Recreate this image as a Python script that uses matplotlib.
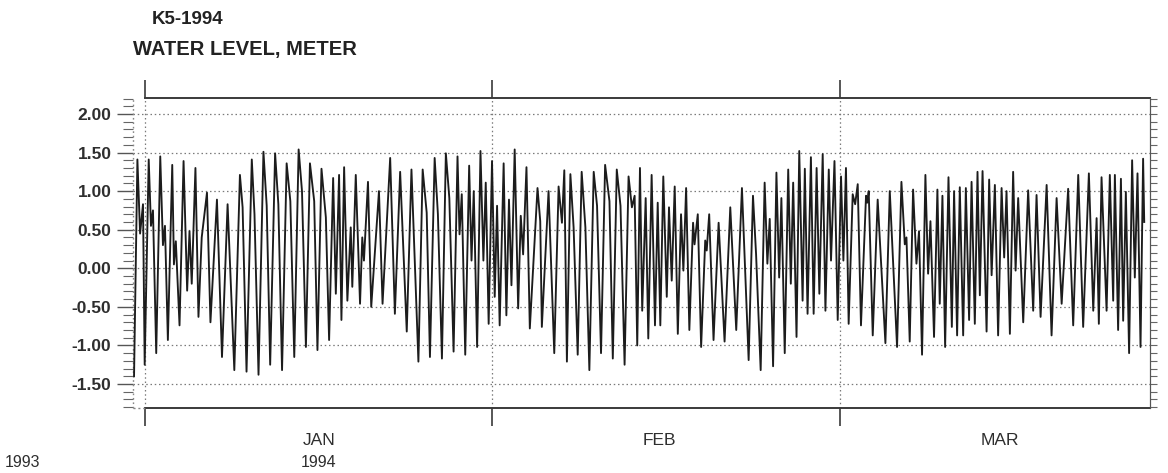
import numpy as np
import matplotlib.pyplot as plt
import matplotlib.transforms as mtransforms
from matplotlib.ticker import MultipleLocator

plt.rcParams['font.family'] = ['Liberation Sans', 'DejaVu Sans']

# K5 tide gauge, high/low water points
# time = days from 1 Jan 1994 00:00, level = metres
jan_day = [-0.98, -0.68, -0.44, -0.18, -0.03, 0.33, 0.53, 0.71, 1.00, 1.36,
           1.60, 1.78, 2.04, 2.43, 2.58, 2.75, 3.08, 3.44, 3.76, 3.97,
           4.17, 4.50, 4.77, 5.06, 5.53, 5.84, 6.42, 6.87, 7.37, 7.97,
           8.47, 8.71, 9.06, 9.53, 9.77, 10.13, 10.57, 10.86, 11.17, 11.61,
           11.90, 12.23, 12.64, 12.97, 13.32, 13.71, 14.01, 14.36, 14.72, 15.10,
           15.39, 15.75, 16.14, 16.43, 16.79, 17.03, 17.32, 17.53, 17.77, 18.06,
           18.36, 18.50, 18.81, 19.19, 19.39, 19.54, 19.90, 20.19, 20.88, 21.20,
           21.88, 22.30, 22.77, 23.36, 23.78, 24.40, 24.78, 25.14, 25.43, 25.85,
           26.14, 26.50, 26.85, 27.16, 27.54, 27.89, 28.07, 28.27, 28.58, 28.93,
           29.14, 29.34, 29.64, 29.94, 30.20, 30.41, 30.67, 30.97]
jan_level = [-1.40, 1.41, 0.45, 0.83, -1.25, 1.41, 0.55, 0.75, -1.10, 1.45,
             0.30, 0.55, -0.93, 1.34, 0.05, 0.35, -0.74, 1.39, -0.29, 0.48,
             -0.20, 1.30, -0.63, 0.40, 0.98, -0.70, 0.89, -1.15, 0.83, -1.32,
             1.21, 0.79, -1.34, 1.41, 0.70, -1.38, 1.51, 0.81, -1.25, 1.49,
             0.83, -1.32, 1.36, 0.87, -1.15, 1.54, 1.00, -1.02, 1.36, 0.87,
             -1.06, 1.29, 0.66, -0.93, 1.17, -0.33, 1.21, -0.67, 1.31, -0.42,
             0.53, -0.24, 1.21, -0.46, 0.40, 0.10, 1.12, -0.50, 1.00, -0.46,
             1.43, -0.59, 1.25, -0.82, 1.28, -1.21, 1.28, 0.72, -1.15, 1.43,
             0.70, -1.17, 1.49, 0.91, -1.08, 1.45, 0.44, 0.96, -1.12, 1.33,
             0.10, 1.00, -1.02, 1.52, 0.10, 1.11, -0.72, 1.39]

feb_day = [31.19, 31.38, 31.59, 31.91, 32.13, 32.34, 32.54, 32.80, 33.08, 33.29,
           33.48, 33.75, 34.02, 34.64, 34.86, 34.99, 35.53, 35.99, 36.34, 36.61,
           36.80, 37.01, 37.29, 37.55, 37.88, 38.20, 38.50, 38.82, 39.17, 39.44,
           39.76, 40.09, 40.44, 40.71, 41.03, 41.33, 41.66, 41.98, 42.25, 42.47,
           42.68, 42.90, 43.08, 43.36, 43.57, 43.84, 44.11, 44.33, 44.54, 44.78,
           45.06, 45.24, 45.46, 45.70, 45.95, 46.21, 46.40, 46.62, 46.88, 47.18,
           47.30, 47.56, 47.83, 48.16, 48.28, 48.48, 48.83, 49.24, 49.72, 50.18,
           50.66, 51.12, 51.66, 52.01, 52.26, 52.63, 52.95, 53.17, 53.36, 53.63,
           53.90, 54.12, 54.30, 54.57, 54.85, 55.06, 55.25, 55.52, 55.74, 56.01,
           56.19, 56.41, 56.68, 56.90, 57.14, 57.36, 57.63, 57.85, 58.12, 58.30,
           58.58, 58.84]
feb_level = [-0.37, 0.81, -0.74, 1.36, -0.61, 0.89, -0.22, 1.54, -0.52, 0.68,
             0.18, 1.31, -0.78, 1.04, 0.61, -0.76, 1.00, -1.10, 1.06, 0.59,
             1.27, -1.21, 1.22, 0.53, -1.12, 1.25, 0.53, -1.32, 1.25, 0.81,
             -1.10, 1.34, 0.87, -1.17, 1.28, 0.81, -1.25, 1.19, 0.79, 0.94,
             -1.00, 1.30, -0.55, 0.91, -0.91, 1.21, -0.74, 0.85, -0.74, 1.19,
             -0.37, 0.79, -0.16, 1.06, -0.85, 0.70, -0.03, 1.04, -0.80, 0.59,
             0.31, 0.70, -1.02, 0.36, 0.23, 0.70, -0.93, 0.59, -0.95, 0.79,
             -0.80, 1.04, -1.19, 0.94, 0.18, -1.32, 1.11, 0.06, 0.64, -1.27,
             1.24, -0.12, 0.91, -1.10, 1.28, -0.20, 1.11, -0.89, 1.52, -0.42,
             1.29, -0.59, 1.44, -0.59, 1.30, -0.33, 1.48, -0.55, 1.28, 0.10,
             1.39, -0.67]

mar_day = [59.12, 59.33, 59.56, 59.80, 60.16, 60.38, 60.61, 60.90, 61.35, 61.46,
           61.59, 61.95, 62.39, 63.08, 63.47, 64.12, 64.51, 64.81, 64.96, 65.25,
           65.55, 65.85, 66.08, 66.35, 66.65, 66.89, 67.10, 67.42, 67.72, 67.93,
           68.17, 68.41, 68.71, 69.01, 69.21, 69.48, 69.72, 70.02, 70.26, 70.55,
           70.77, 71.06, 71.30, 71.51, 71.75, 72.11, 72.34, 72.56, 72.85, 73.14,
           73.45, 73.68, 73.89, 74.19, 74.48, 74.70, 74.93, 75.38, 75.82, 76.27,
           76.57, 76.93, 77.47, 77.91, 78.36, 78.81, 79.39, 79.84, 80.29, 80.73,
           81.24, 81.63, 81.93, 82.13, 82.37, 82.82, 83.11, 83.41, 83.56, 83.85,
           84.10, 84.30, 84.54, 84.83, 85.10, 85.34, 85.58, 85.85, 86.08, 86.18]
mar_level = [1.19, 0.10, 1.30, -0.72, 0.96, 0.83, 1.09, -0.74, 0.94, 0.85,
             1.00, -0.87, 0.89, -0.97, 1.00, -1.02, 1.12, 0.31, 0.40, -0.95,
             1.02, 0.06, 0.48, -1.12, 1.21, -0.07, 0.61, -0.89, 1.02, -0.46,
             0.94, -1.02, 1.18, -0.76, 1.00, -0.87, 1.05, -0.87, 1.04, -0.67,
             1.12, -0.72, 1.25, -0.35, 1.26, -0.82, 1.15, -0.09, 1.08, -0.87,
             1.04, 0.14, 1.00, -0.85, 1.25, -0.03, 0.91, -0.70, 1.01, -0.55,
             0.95, -0.63, 1.08, -0.87, 0.91, -0.46, 1.03, -0.74, 1.21, -0.76,
             1.23, -0.55, 0.65, -0.72, 1.18, -0.55, 1.21, -0.42, 1.21, -0.80,
             1.16, -0.68, 0.99, -1.10, 1.40, -0.12, 1.23, -1.02, 1.42, 0.60]

# month boundaries (Dec 1993 .. Apr 1994) in days from 1 Jan 1994
month_start_day = [-31, 0, 31, 59, 90]
month_names = ["JAN", "FEB", "MAR"]
month_label_day = [15.5, 44.5, 73.3]
level_ticks = [-1.5, -1.0, -0.5, 0.0, 0.5, 1.0, 1.5, 2.0]


def to_month_axis(days):
    # every month gets the same width on the time axis
    return np.interp(days, month_start_day, np.arange(-1, len(month_start_day) - 1))


t = to_month_axis(np.array(jan_day + feb_day + mar_day))
h = np.array(jan_level + feb_level + mar_level)

ink = '#1c1c1c'
fig = plt.figure(figsize=(11.68, 4.73), dpi=100)
ax = fig.add_axes([0.11387, 0.13742, 0.87072, 0.65539])

x0, x1 = -0.0346, 2.8934
ax.set_xlim(x0, x1)
ax.set_ylim(-1.811, 2.207)

# dotted reference grid
for lv in level_ticks:
    ax.axhline(lv, color='#7a7a7a', lw=0.9, ls=(0, (1.2, 2.2)), zorder=1)
for m in to_month_axis(month_start_day[1:4]):
    ax.axvline(m, color='#7a7a7a', lw=0.9, ls=(0, (1.2, 2.2)), zorder=1)

ax.plot(t, h, color=ink, lw=1.35, zorder=3)

# frame: solid top/bottom from 1 Jan, dotted left edge
for s in ['top', 'bottom', 'left']:
    ax.spines[s].set_visible(False)
ax.spines['right'].set_color('#555555')
ax.spines['right'].set_linewidth(0.8)
ax.plot([0, x1], [1, 1], color='#3a3a3a', lw=1.4, transform=ax.get_xaxis_transform(), clip_on=False)
ax.plot([0, x1], [0, 0], color='#3a3a3a', lw=1.4, transform=ax.get_xaxis_transform(), clip_on=False)
ax.plot([x0, 0], [0, 0], color='#888888', lw=1.0, ls=(0, (1.5, 2)), transform=ax.get_xaxis_transform(), clip_on=False)
ax.plot([x0, x0], [0, 1], color='#888888', lw=1.0, ls=(0, (1.2, 2)), transform=ax.get_xaxis_transform(), clip_on=False)

# month ticks sticking out above and below the frame
ax.set_xticks(to_month_axis(month_start_day[1:4]))
ax.tick_params(axis='x', which='major', top=True, bottom=True, direction='out',
               length=13, width=1.2, color='#3a3a3a', labelbottom=False)

ax.set_yticks(level_ticks)
ax.yaxis.set_minor_locator(MultipleLocator(0.1))
ax.tick_params(axis='y', which='major', left=True, direction='out', length=11.5,
               width=1.0, color='#555555', pad=4, labelsize=12.5, labelcolor='#2e2e2e')
ax.tick_params(axis='y', which='minor', left=True, direction='out', length=7,
               width=0.8, color='#666666')
ax.set_yticklabels([f"{v:.2f}" for v in level_ticks])
for lbl in ax.get_yticklabels():
    lbl.set_fontweight('bold')

# short ticks on the right edge
ax_r = ax.secondary_yaxis('right')
ax_r.set_yticks(level_ticks)
ax_r.yaxis.set_minor_locator(MultipleLocator(0.1))
ax_r.tick_params(axis='y', which='both', direction='out', length=5, width=0.8,
                 color='#666666', labelright=False)
ax_r.spines['right'].set_color('#555555')
ax_r.spines['right'].set_linewidth(0.8)

# month names and years under the axis
trans = mtransforms.blended_transform_factory(ax.transData, fig.transFigure)
for name, d in zip(month_names, month_label_day):
    ax.text(to_month_axis(d), 1 - 440 / 473, name, transform=trans, ha='center',
            va='center', fontsize=12.5, color='#2e2e2e')
ax.text(to_month_axis(month_label_day[0]), 1 - 462 / 473, "1994", transform=trans,
        ha='center', va='center', fontsize=11.5, color='#2e2e2e')
fig.text(22 / 1168, 1 - 462 / 473, "1993", ha='center', va='center', fontsize=11.5,
         color='#2e2e2e')

fig.text(152 / 1168, 1 - 20 / 473, "K5-1994", ha='left', va='center', fontsize=13.5,
         fontweight='bold', color='#222222')
fig.text(133 / 1168, 1 - 49 / 473, "WATER LEVEL, METER", ha='left', va='center',
         fontsize=14.5, fontweight='bold', color='#222222')

fig.savefig('out.png', dpi=100)
